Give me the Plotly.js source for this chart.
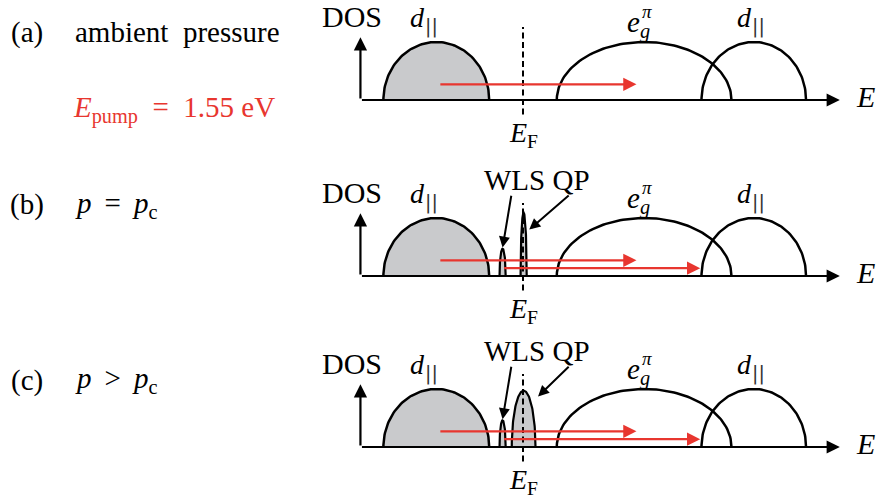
<!DOCTYPE html>
<html><head><meta charset="utf-8">
<script src="https://cdn.plot.ly/plotly-3.0.1.min.js"></script>
<style>html,body{margin:0;padding:0;background:#fff}</style>
</head><body><div id="chart" style="width:882px;height:500px"></div>
<script>
// ---- Data (energy in eV relative to E_F, DOS in units of the band peak) ----
const panelLabels = ['(a)', '(b)', '(c)'];
const panelConditions = ['ambient&nbsp; pressure', '<i>p</i>&#8201; = &#8201;<i>p</i><sub>c</sub>', '<i>p</i>&#8201; &gt; &#8201;<i>p</i><sub>c</sub>'];
const pumpLabel = '<i>E</i><sub>pump</sub>&nbsp; = &nbsp;1.55&nbsp;eV';
const bandNames = ['d||', 'eg_pi', 'd||'];
const bandCenters = [-0.68, 0.95, 1.81];
const bandHalfWidths = [0.415, 0.685, 0.41];
const bandHeights = [1.0, 1.0, 1.0];
const bandFilled = [true, false, false];
const wlsCenters = [null, -0.16, -0.16];
const wlsHalfWidths = [null, 0.024, 0.024];
const wlsHeights = [null, 0.47, 0.46];
const qpCenters = [null, 0.005, 0.005];
const qpHalfWidths = [null, 0.024, 0.093];
const qpHeights = [null, 1.09, 0.97];
const pumpEnergy = 1.55;
const pumpStarts = [[-0.66], [-0.66, -0.16], [-0.66, -0.16]];
const pumpLevels = [[0.27], [0.27, 0.135], [0.27, 0.135]];
const fermiEnergy = 0.0;
const dosAxisEnergy = -1.275;
const energyAxisEnd = 2.485;
const dosAxisTop = 1.08;

// ---- Layout geometry ----
const W = 882, H = 500, PX_PER_EV = 127.5, PX_PER_DOS = 58;
const xDomPx = [300, 882];
const eAtPx = px => (px - 523) / PX_PER_EV;
const panelPx = [[0, 150, 100], [160, 330, 276], [335, 500, 447]]; // top, bottom, baseline
const FONT = 'Liberation Serif';
const RED = '#e8362f';
const GRAY = '#c9cacc';

const traces = [];
const annotations = [];
const layout = {
  width: W, height: H, margin: {l: 0, r: 0, t: 0, b: 0},
  paper_bgcolor: '#fff', plot_bgcolor: 'rgba(0,0,0,0)', showlegend: false,
  font: {family: FONT, color: '#000', size: 26},
  annotations: annotations
};

function semi(c, hw, h) {
  const xs = [], ys = [];
  const n = 90;
  for (let k = 0; k <= n; k++) {
    const t = Math.PI * k / n;
    xs.push(c + hw * Math.cos(t));
    ys.push(h * Math.sin(t));
  }
  return [xs, ys];
}

for (let p = 0; p < 3; p++) {
  const s = p === 0 ? '' : String(p + 1);
  const xa = 'x' + s, ya = 'y' + s;
  const [top, bot, base] = panelPx[p];
  layout['xaxis' + s] = {domain: [xDomPx[0] / W, xDomPx[1] / W], range: [eAtPx(xDomPx[0]), eAtPx(xDomPx[1])],
    visible: false, fixedrange: true, anchor: ya};
  layout['yaxis' + s] = {domain: [1 - bot / H, 1 - top / H], range: [-(bot - base) / PX_PER_DOS, (base - top) / PX_PER_DOS],
    visible: false, fixedrange: true, anchor: xa};

  // bands
  for (let i = 0; i < bandCenters.length; i++) {
    const [bx, by] = semi(bandCenters[i], bandHalfWidths[i], bandHeights[i]);
    traces.push({x: bx, y: by, xaxis: xa, yaxis: ya, mode: 'lines', hoverinfo: 'skip',
      line: {color: '#000', width: 2.5}, fill: bandFilled[i] ? 'toself' : 'none', fillcolor: GRAY});
  }
  if (wlsCenters[p] !== null) {
    const [wx, wy] = semi(wlsCenters[p], wlsHalfWidths[p], wlsHeights[p]);
    traces.push({x: wx, y: wy, xaxis: xa, yaxis: ya, mode: 'lines', hoverinfo: 'skip',
      line: {color: '#000', width: 2.2}, fill: 'toself', fillcolor: GRAY});
  }
  if (qpCenters[p] !== null) {
    const [qx, qy] = semi(qpCenters[p], qpHalfWidths[p], qpHeights[p]);
    traces.push({x: qx, y: qy, xaxis: xa, yaxis: ya, mode: 'lines', hoverinfo: 'skip',
      line: {color: '#000', width: 2.2}, fill: 'toself', fillcolor: GRAY});
  }
  // Fermi level dashed line
  traces.push({x: [fermiEnergy, fermiEnergy], y: [-0.25, 1.26], xaxis: xa, yaxis: ya, mode: 'lines',
    hoverinfo: 'skip', line: {color: '#000', width: 2, dash: '6px,3.5px'}});

  // axes arrows
  annotations.push({xref: xa, yref: ya, axref: xa, ayref: ya, x: energyAxisEnd, y: 0, ax: dosAxisEnergy, ay: 0,
    text: '', showarrow: true, arrowhead: 2, arrowsize: 1.2, arrowwidth: 2.2, arrowcolor: '#000'});
  annotations.push({xref: xa, yref: ya, axref: xa, ayref: ya, x: dosAxisEnergy, y: dosAxisTop, ax: dosAxisEnergy, ay: 0,
    text: '', showarrow: true, arrowhead: 2, arrowsize: 1.2, arrowwidth: 2.2, arrowcolor: '#000'});

  // pump arrows
  for (let j = 0; j < pumpStarts[p].length; j++) {
    annotations.push({xref: xa, yref: ya, axref: xa, ayref: ya,
      x: pumpStarts[p][j] + pumpEnergy, y: pumpLevels[p][j], ax: pumpStarts[p][j], ay: pumpLevels[p][j],
      text: '', showarrow: true, arrowhead: 2, arrowsize: 1.1, arrowwidth: 2.4, arrowcolor: RED});
  }

  // labels
  const lab = (x, y, text, size, extra) => annotations.push(Object.assign({xref: xa, yref: ya, x: x, y: y, text: text,
    showarrow: false, xanchor: 'center', yanchor: 'middle', font: {family: FONT, size: size, color: '#000'}}, extra || {}));
  const barFont = {family: 'DejaVu Sans', size: 19, color: '#333'};
  lab(dosAxisEnergy - 0.07, 1.44, 'DOS', 30);
  lab(-0.827, 1.42, '<i>d</i>', 28);
  lab(-0.72, 1.27, '||', 19, {font: barFont});
  lab(0.80, 1.31, '<i>e</i><sub><i>g</i></sub>', 29, {xanchor: 'left'});
  lab(0.915, 1.53, '<i>π</i>', 19, {xanchor: 'left'});
  lab(1.74, 1.42, '<i>d</i>', 28);
  lab(1.845, 1.27, '||', 19, {font: barFont});
  lab(fermiEnergy, -0.60, '<i>E</i><sub>F</sub>', 28);
  lab(2.69, 0.06, '<i>E</i>', 30);

  if (p > 0) {
    lab(0.11, 1.66, 'WLS QP', 29);
    annotations.push({xref: xa, yref: ya, axref: xa, ayref: ya, x: wlsCenters[p], y: wlsHeights[p] + 0.02,
      ax: -0.09, ay: 1.41, text: '', showarrow: true, arrowhead: 2, arrowsize: 1.1, arrowwidth: 2, arrowcolor: '#000'});
    annotations.push({xref: xa, yref: ya, axref: xa, ayref: ya,
      x: qpCenters[p] + qpHalfWidths[p] + 0.02, y: p === 1 ? 0.80 : 0.87,
      ax: 0.37, ay: 1.41, text: '', showarrow: true, arrowhead: 2, arrowsize: 1.1, arrowwidth: 2, arrowcolor: '#000'});
  }

  // left-hand panel labels (paper coords)
  const rowY = [32, 205, 380][p];
  annotations.push({xref: 'paper', yref: 'paper', x: 27 / W, y: 1 - rowY / H, text: panelLabels[p], showarrow: false,
    xanchor: 'center', yanchor: 'middle', font: {family: FONT, size: 29, color: '#000'}});
  annotations.push({xref: 'paper', yref: 'paper', x: 73 / W, y: 1 - rowY / H, text: panelConditions[p], showarrow: false,
    xanchor: 'left', yanchor: 'middle', font: {family: FONT, size: 29, color: '#000'}});
}
annotations.push({xref: 'paper', yref: 'paper', x: 71 / W, y: 1 - 110 / H, text: pumpLabel, showarrow: false,
  xanchor: 'left', yanchor: 'middle', font: {family: FONT, size: 29, color: RED}});

Plotly.newPlot('chart', traces, layout, {staticPlot: true, displayModeBar: false});
</script></body></html>
